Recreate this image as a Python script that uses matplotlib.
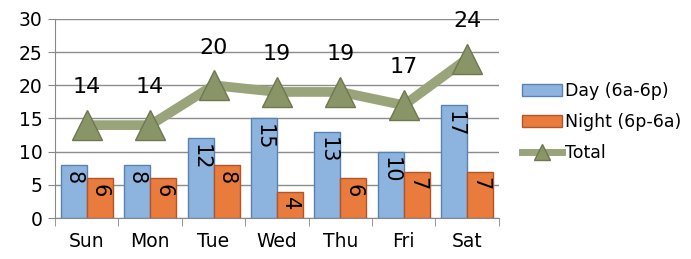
import matplotlib
matplotlib.use("Agg")
import matplotlib.pyplot as plt
import numpy as np
from matplotlib.lines import Line2D
from matplotlib.patches import Patch

days = ["Sun", "Mon", "Tue", "Wed", "Thu", "Fri", "Sat"]
day_vals = [8, 8, 12, 15, 13, 10, 17]
night_vals = [6, 6, 8, 4, 6, 7, 7]
total_vals = [14, 14, 20, 19, 19, 17, 24]
series_names = ["Day (6a-6p)", "Night (6p-6a)", "Total"]

plt.rcParams['font.family'] = ['DejaVu Sans']

fig = plt.figure(figsize=(6.91, 2.59), dpi=100)
ax = fig.add_axes([0.0796, 0.158, 0.6424, 0.769])

x = np.arange(len(days))
w = 0.41
blue = '#8db3df'
blue_edge = '#5a82b0'
orange = '#e97b3d'
orange_edge = '#b2562a'
olive = '#9aa47a'

b1 = ax.bar(x - w/2, day_vals, w, color=blue, edgecolor=blue_edge, linewidth=1.0, zorder=2)
b2 = ax.bar(x + w/2, night_vals, w, color=orange, edgecolor=orange_edge, linewidth=1.0, zorder=2)
ax.plot(x, total_vals, color=olive, lw=7, zorder=3, solid_capstyle='butt')
ax.plot(x, total_vals, ls='none', marker='^', ms=22, markerfacecolor='#8a9567',
        markeredgecolor='#6e7850', markeredgewidth=1, zorder=4)

for xi, v in zip(x, day_vals):
    ax.annotate(str(v), (xi - w/2, v), xytext=(0, -4), textcoords='offset points',
                rotation=-90, ha='center', va='top', fontsize=15, zorder=5)
for xi, v in zip(x, night_vals):
    ax.annotate(str(v), (xi + w/2, v), xytext=(0, -4), textcoords='offset points',
                rotation=-90, ha='center', va='top', fontsize=15, zorder=5)
for xi, v in zip(x, total_vals):
    ax.annotate(str(v), (xi, v), xytext=(0, 20), textcoords='offset points',
                ha='center', va='bottom', fontsize=16, zorder=5)

ax.set_xlim(-0.5, len(days) - 0.5)
ax.set_ylim(0, 30)
ax.set_yticks(range(0, 31, 5))
ax.set_xticks(x)
ax.set_xticklabels(days, fontsize=13.5)
ax.tick_params(axis='x', length=0, pad=10)
ax.set_xticks(np.arange(-0.5, len(days), 1), minor=True)
ax.tick_params(axis='x', which='minor', length=6, color='#888888', direction='out')
ax.tick_params(axis='y', labelsize=13.5, length=5, color='#888888', pad=4)
ax.yaxis.grid(True, color='#8c8c8c', lw=1, zorder=0)
ax.set_axisbelow(True)
for s in ['top', 'right']:
    ax.spines[s].set_visible(False)
ax.spines['left'].set_color('#888888')
ax.spines['bottom'].set_color('#888888')

handles = [Patch(facecolor=blue, edgecolor=blue_edge),
           Patch(facecolor=orange, edgecolor=orange_edge),
           Line2D([0], [0], color=olive, lw=5, marker='^', ms=11,
                  markerfacecolor='#8a9567', markeredgecolor='#6e7850')]
fig.legend(handles, series_names, loc='upper left', bbox_to_anchor=(0.745, 0.71),
           frameon=False, fontsize=12.5, handlelength=2.3, handletextpad=0.2,
           labelspacing=0.75, borderaxespad=0)

fig.savefig("out.png", dpi=100)
